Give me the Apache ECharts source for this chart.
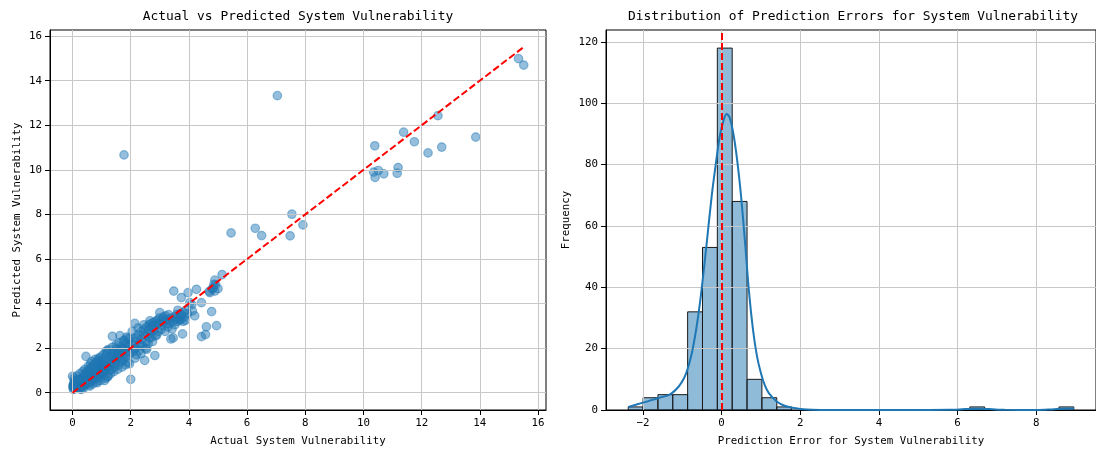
<!DOCTYPE html>
<html>
<head>
<meta charset="utf-8">
<script src="https://cdn.jsdelivr.net/npm/echarts@6/dist/echarts.min.js"></script>
<style>html,body{margin:0;padding:0;background:#fff}#c{width:1096px;height:452px}</style>
</head>
<body>
<div id="c"></div>
<script>
// ---- Scatter: actual vs predicted ----
const scatterPoints = [
[0.02,0.22],[0.03,0.35],[0.05,0.28],[0.04,0.42],[0.08,0.18],[0.10,0.30],[0.12,0.25],[0.06,0.50],[0.15,0.38],[0.18,0.22],
[0.20,0.45],[0.22,0.30],[0.25,0.55],[0.27,0.35],[0.30,0.42],[0.32,0.28],[0.35,0.60],[0.38,0.45],[0.40,0.33],[0.42,0.70],
[0.45,0.52],[0.48,0.40],[0.50,0.65],[0.03,0.15],[0.09,0.40],[0.14,0.20],[0.17,0.55],[0.21,0.38],[0.24,0.18],[0.28,0.48],
[0.31,0.62],[0.34,0.40],[0.37,0.30],[0.39,0.78],[0.43,0.45],[0.46,0.85],[0.49,0.55],[0.01,0.30],[0.11,0.45],[0.19,0.30],
[0.26,0.40],[0.33,0.50],[0.41,0.55],[0.47,0.62],[0.00,0.74],[0.46,1.63],[0.07,0.25],[0.13,0.33],[0.23,0.60],[0.29,0.25],
[0.36,0.52],[0.44,0.38],
[0.05,0.65],[0.15,0.75],[0.25,0.85],[0.35,0.95],[0.42,1.05],[0.30,0.15],[0.20,0.60],[0.10,0.55],[0.38,0.20],[0.48,0.95],
[0.52,0.45],[0.55,0.70],[0.58,0.60],[0.60,0.85],[0.62,0.50],[0.65,0.75],[0.68,0.95],[0.70,0.62],[0.72,0.80],[0.75,1.05],
[0.78,0.72],[0.80,0.90],[0.82,1.15],[0.85,0.78],[0.88,1.00],[0.90,0.85],[0.92,1.25],[0.95,0.95],[0.98,1.10],[1.00,0.80],
[0.54,0.95],[0.57,0.35],[0.63,1.10],[0.66,0.55],[0.71,1.20],[0.74,0.60],[0.79,1.35],[0.83,0.65],[0.87,1.45],[0.91,0.70],
[0.96,1.30],[0.53,0.62],[0.59,0.48],[0.64,0.88],[0.69,0.72],[0.73,0.95],[0.77,0.85],[0.81,0.75],[0.86,1.05],[0.89,0.95],
[0.94,1.15],[0.97,0.90],[0.56,0.80],[0.61,0.70],[0.67,0.65],[0.76,0.70],[0.84,0.95],[0.93,1.00],[0.99,1.40],
[0.55,1.20],[0.62,1.30],[0.70,0.40],[0.78,1.50],[0.85,0.45],[0.90,1.55],[0.95,0.55],[0.58,1.05],[0.66,1.40],[0.74,1.25],
[0.82,0.50],[0.88,1.30],[0.97,1.60],[0.60,0.30],
[1.02,1.10],[1.05,0.90],[1.08,1.25],[1.10,1.55],[1.12,1.00],[1.15,1.30],[1.18,1.75],[1.20,1.15],[1.22,0.75],[1.25,1.40],
[1.28,1.20],[1.30,1.60],[1.33,1.35],[1.35,1.05],[1.37,2.53],[1.40,1.50],[1.42,1.80],[1.45,1.30],[1.48,1.65],[1.50,1.45],
[1.52,2.00],[1.55,1.60],[1.58,1.25],[1.60,1.85],[1.63,2.56],[1.65,1.70],[1.68,1.40],[1.70,2.10],[1.72,1.80],[1.75,1.55],
[1.78,2.30],[1.80,1.95],[1.82,1.60],[1.85,2.20],[1.88,1.85],[1.90,1.35],[1.92,2.05],[1.95,2.40],[1.98,1.75],[2.00,0.60],
[1.06,1.45],[1.13,0.65],[1.19,1.90],[1.27,1.00],[1.34,1.75],[1.44,1.15],[1.54,1.90],[1.62,1.55],[1.74,2.00],[1.84,1.75],
[1.94,2.10],[1.16,1.20],[1.46,1.55],[1.66,1.95],[1.86,2.50],
[1.05,1.70],[1.10,0.55],[1.15,1.85],[1.20,0.70],[1.25,1.95],[1.30,0.85],[1.38,2.05],[1.42,0.95],[1.50,2.15],[1.55,1.05],
[1.60,2.25],[1.70,1.15],[1.76,2.35],[1.82,1.25],[1.90,2.45],[1.96,1.30],[1.08,0.95],[1.35,1.60],[1.58,1.75],[1.72,1.45],
[2.05,2.15],[2.08,1.85],[2.10,2.45],[2.14,3.11],[2.15,2.00],[2.18,2.30],[2.20,1.70],[2.25,2.60],[2.28,2.20],[2.30,1.90],
[2.35,2.75],[2.38,2.40],[2.40,2.10],[2.45,2.85],[2.48,1.45],[2.50,2.55],[2.53,2.30],[2.55,2.95],[2.58,2.65],[2.60,2.20],
[2.63,3.05],[2.66,3.23],[2.68,2.70],[2.70,3.10],[2.72,2.50],[2.75,3.00],[2.78,3.15],[2.80,2.80],[2.83,1.67],[2.85,3.20],
[2.88,3.05],[2.90,2.60],[2.92,3.25],[2.95,3.10],[2.98,3.35],[3.00,3.60],[2.22,2.45],[2.42,2.60],[2.62,2.85],[2.82,3.00],
[2.12,1.95],[2.32,2.15],[2.52,2.00],[2.72,2.95],
[2.05,2.75],[2.15,1.55],[2.25,2.90],[2.35,1.75],[2.45,3.05],[2.55,1.95],[2.65,2.45],[2.75,2.30],[2.85,2.55],[2.95,2.75],
[3.02,3.15],[3.05,2.85],[3.08,3.30],[3.10,3.00],[3.12,3.40],[3.15,3.20],[3.18,2.75],[3.20,3.45],[3.22,3.10],[3.25,3.30],
[3.28,2.95],[3.30,3.50],[3.32,3.25],[3.35,3.10],[3.38,2.41],[3.40,3.35],[3.42,2.86],[3.45,3.20],[3.48,4.56],[3.50,3.40],
[3.52,3.05],[3.55,3.30],[3.58,3.50],[3.60,3.20],[3.62,3.70],[3.65,3.35],[3.68,3.25],[3.70,3.55],[3.72,3.30],[3.74,4.27],
[3.76,3.45],[3.78,2.64],[3.80,3.20],[3.82,3.60],[3.85,3.40],[3.88,3.25],[3.90,3.70],[3.95,3.55],[3.46,2.46],
[3.97,4.49],[4.03,4.04],[4.12,3.67],[4.20,3.45],[4.26,4.64],[4.43,4.04],[4.43,2.52],[4.57,2.61],[4.60,2.96],[4.72,4.49],
[4.78,3.64],[4.86,4.86],[4.89,4.56],[4.89,5.05],[4.95,3.01],[5.00,4.67],[5.14,5.30],[4.83,4.70],[4.70,4.55],[4.92,4.85],
[4.80,4.65],[4.10,3.95],
[1.77,10.67],[7.04,13.33],[5.45,7.17],[6.28,7.38],[6.50,7.05],[7.54,8.01],[7.48,7.04],[7.92,7.53],[15.33,14.99],[15.51,14.70],
[12.56,12.43],[11.38,11.69],[11.75,11.26],[12.22,10.76],[12.69,11.02],[13.86,11.47],[10.39,11.08],[10.35,9.90],[10.40,9.66],
[10.51,9.97],[10.70,9.82],[11.16,9.85],[11.19,10.10]
];
const scatterTicks = [0, 2, 4, 6, 8, 10, 12, 14, 16];

// ---- Histogram of prediction errors (30 bins) ----
const histStart = -2.375;
const histBinWidth = 0.3777;
const histCounts = [1,4,5,5,32,53,118,68,10,4,1,0,0,0,0,0,0,0,0,0,0,0,0,1,0,0,0,0,0,1];
const histXTicks = [-2, 0, 2, 4, 6, 8];
const histYTicks = [0, 20, 40, 60, 80, 100, 120];

// ---- KDE curve (scaled to counts) ----
const kdeX = [-2.37,-2.0,-1.6,-1.3,-1.1,-0.95,-0.85,-0.75,-0.65,-0.55,-0.45,-0.35,-0.25,-0.15,-0.05,0.05,0.13,0.2,0.3,0.4,0.5,0.6,0.7,0.8,0.9,1.0,1.1,1.2,1.4,1.6,1.8,2.0,2.3,3.0,4.0,5.0,5.8,6.2,6.5,6.8,7.2,8.0,8.4,8.7,8.96];
const kdeY = [1.0,2.4,3.9,5.2,7.5,10.5,14,19,26,35,46,58,70,80,89,94.5,96.5,95.5,90,81,69,54,38,26,17.5,12,8,5.5,2.8,1.4,0.7,0.35,0.1,0.02,0,0,0.05,0.3,0.4,0.3,0.05,0.02,0.2,0.4,0.45];

const FONT = 'DejaVu Sans Mono';
const actualVals = scatterPoints.map(p => p[0]);
const aMin = Math.min(...actualVals), aMax = Math.max(...actualVals);

const histData = [];
histCounts.forEach((c, i) => { if (c > 0) histData.push([histStart + i * histBinWidth, histStart + (i + 1) * histBinWidth, c]); });
const kdeData = kdeX.map((x, i) => [x, kdeY[i]]);

const minusFmt = v => String(v).replace('-', '\u2212');
function axisCommon(ticks) {
  return {
    axisLine: { show: true, onZero: false, lineStyle: { color: '#000', width: 1 } },
    axisTick: { show: true, inside: false, length: 5, lineStyle: { color: '#000', width: 1 }, customValues: ticks },
    axisLabel: { show: true, color: '#000', fontFamily: FONT, fontSize: 10.8, margin: 8, customValues: ticks, formatter: minusFmt },
    splitLine: { show: true, lineStyle: { color: '#c8c8c8', width: 1 } },
    nameTextStyle: { color: '#000', fontFamily: FONT, fontSize: 10.8 },
    z: 3
  };
}

const chart = echarts.init(document.getElementById('c'), null, { renderer: 'canvas' });
chart.setOption({
  animation: false,
  backgroundColor: '#fff',
  title: [
    { text: 'Actual vs Predicted System Vulnerability', left: 298, top: 10, textAlign: 'center', padding: 0,
      textStyle: { fontFamily: FONT, fontSize: 12.9, fontWeight: 'normal', color: '#000' } },
    { text: 'Distribution of Prediction Errors for System Vulnerability', left: 853, top: 10, textAlign: 'center', padding: 0,
      textStyle: { fontFamily: FONT, fontSize: 12.9, fontWeight: 'normal', color: '#000' } }
  ],
  grid: [
    { left: 50, top: 30, width: 496, height: 383, show: true, borderColor: '#000', borderWidth: 1, backgroundColor: 'transparent' },
    { left: 606, top: 30, width: 495, height: 383, show: true, borderColor: '#000', borderWidth: 1, backgroundColor: 'transparent' }
  ],
  xAxis: [
    Object.assign(axisCommon(scatterTicks), { type: 'value', gridIndex: 0, min: -0.775, max: 16.275,
      name: 'Actual System Vulnerability', nameLocation: 'middle', nameGap: 26 }),
    Object.assign(axisCommon(histXTicks), { type: 'value', gridIndex: 1, min: -2.94, max: 9.52,
      name: 'Prediction Error for System Vulnerability', nameLocation: 'middle', nameGap: 26 })
  ],
  yAxis: [
    Object.assign(axisCommon(scatterTicks), { type: 'value', gridIndex: 0, min: -0.775, max: 16.275,
      name: 'Predicted System Vulnerability', nameLocation: 'middle', nameGap: 27 }),
    Object.assign(axisCommon(histYTicks), { type: 'value', gridIndex: 1, min: 0, max: 123.9,
      name: 'Frequency', nameLocation: 'middle', nameGap: 34 })
  ],
  series: [
    { type: 'scatter', xAxisIndex: 0, yAxisIndex: 0, data: scatterPoints, symbolSize: 8.5, z: 2,
      itemStyle: { color: 'rgba(31,119,180,0.6)', borderColor: 'rgba(31,119,180,0.6)', borderWidth: 1.2 } },
    { type: 'line', xAxisIndex: 0, yAxisIndex: 0, data: [[aMin, aMin], [aMax, aMax]], symbol: 'none', z: 5,
      lineStyle: { color: '#ff0000', width: 2, type: [7, 3] } },
    { type: 'custom', xAxisIndex: 1, yAxisIndex: 1, data: histData, z: 2,
      renderItem: function (params, api) {
        const p0 = api.coord([api.value(0), api.value(2)]);
        const p1 = api.coord([api.value(1), 0]);
        return { type: 'rect', shape: { x: p0[0], y: p0[1], width: p1[0] - p0[0], height: p1[1] - p0[1] },
          style: { fill: 'rgba(31,119,180,0.5)', stroke: '#1a1a1a', lineWidth: 1 } };
      } },
    { type: 'line', xAxisIndex: 1, yAxisIndex: 1, data: kdeData, symbol: 'none', smooth: 0.3, z: 4,
      lineStyle: { color: '#1f77b4', width: 2 },
      markLine: { silent: true, symbol: ['none', 'none'], label: { show: false }, z: 6,
        lineStyle: { color: '#ff0000', width: 2, type: [7, 3] }, data: [{ xAxis: 0 }] } }
  ]
});
</script>
</body>
</html>
